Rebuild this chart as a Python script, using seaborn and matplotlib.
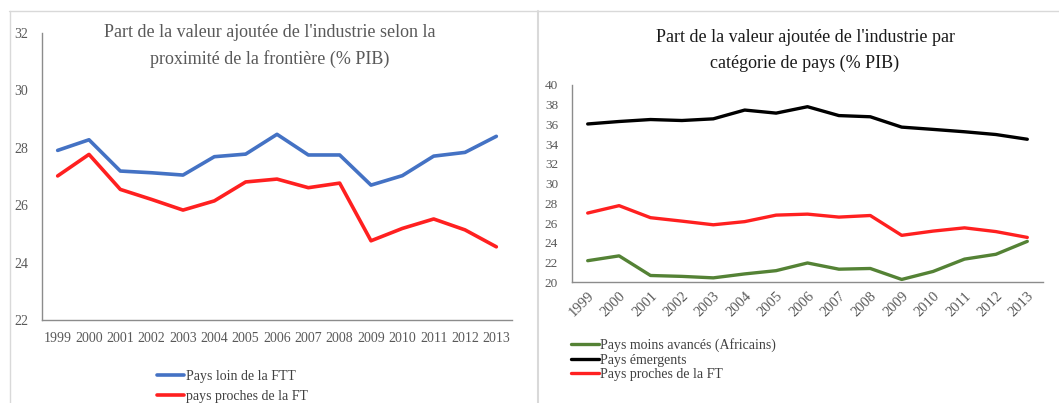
import matplotlib
import pandas as pd

matplotlib.use('Agg')
import matplotlib.pyplot as plt
from matplotlib.lines import Line2D
import seaborn as sns

years = list(range(1999, 2014))

# left chart
loin_ftt = [27.91, 28.28, 27.19, 27.13, 27.05, 27.69, 27.78, 28.47, 27.75, 27.75,
            26.70, 27.03, 27.71, 27.84, 28.40]
proches_ft = [27.02, 27.77, 26.55, 26.20, 25.83, 26.15, 26.81, 26.91, 26.61, 26.77,
              24.76, 25.19, 25.52, 25.14, 24.55]

# right chart
moins_avances = [22.19, 22.68, 20.69, 20.60, 20.45, 20.85, 21.18, 21.96, 21.33, 21.40,
                 20.29, 21.10, 22.35, 22.84, 24.15]
emergents = [36.05, 36.30, 36.50, 36.40, 36.57, 37.46, 37.15, 37.80, 36.90, 36.78,
             35.73, 35.50, 35.26, 34.98, 34.50]

BLUE = "#4472c4"
RED = "#ff2020"
GREEN = "#548235"
BLACK = "#000000"
TXT = "#595959"
AX = "#8c8c8c"

sns.set_style("white")
plt.rcParams['font.family'] = ['Liberation Serif', 'DejaVu Serif']

fig = plt.figure(figsize=(10.59, 4.03), dpi=100)

# panel frames
fig.add_artist(Line2D([9 / 1059, 1], [1 - 11 / 403] * 2, color="#d9d9d9", lw=1))
fig.add_artist(Line2D([9.5 / 1059] * 2, [0, 1 - 11 / 403], color="#d9d9d9", lw=1))
fig.add_artist(Line2D([538 / 1059] * 2, [0, 1 - 11 / 403], color="#d9d9d9", lw=1.5))


def style_axis(ax, ymin, ymax, ystep, rotate):
    ax.set_xlim(1998.5, 2013.5)
    ax.set_ylim(ymin, ymax)
    ax.set_yticks(range(ymin, ymax + 1, ystep))
    ax.set_xticks(years)
    ax.set_xticks([y - 0.5 for y in years] + [2013.5], minor=True)
    ax.tick_params(axis="x", which="major", length=0, pad=9 if not rotate else 5,
                   labelsize=10 if not rotate else 10.5, colors=TXT)
    ax.tick_params(axis="x", which="minor", length=4, width=0.8, color=AX, direction="out")
    ax.tick_params(axis="y", which="major", length=4, width=0.8, color=AX, pad=6,
                   direction="out", labelsize=10 if not rotate else 9.5, labelcolor=TXT)
    if rotate:
        plt.setp(ax.get_xticklabels(), rotation=45, ha="right", rotation_mode="anchor")
    for s in ["top", "right"]:
        ax.spines[s].set_visible(False)
    for s in ["left", "bottom"]:
        ax.spines[s].set_color(AX)
        ax.spines[s].set_linewidth(1)
    ax.set_xlabel("")
    ax.set_ylabel("")
    ax.grid(False)


# left chart
ax1 = fig.add_axes([42 / 1059, 1 - 320 / 403, 470 / 1059, 287 / 403])
df1 = pd.DataFrame({"year": years, "Pays loin de la FTT": loin_ftt,
                    "pays proches de la FT": proches_ft})
sns.lineplot(data=df1, x="year", y="Pays loin de la FTT", ax=ax1, color=BLUE, lw=2.6,
             label="Pays loin de la FTT")
sns.lineplot(data=df1, x="year", y="pays proches de la FT", ax=ax1, color=RED, lw=2.6,
             label="pays proches de la FT")
style_axis(ax1, 22, 32, 2, False)
ax1.legend(loc="upper left", bbox_to_anchor=(102 / 470, -0.13), frameon=False,
           fontsize=10, handlelength=2.0, handletextpad=0.1, labelspacing=0.5,
           labelcolor="#404040")
fig.text(270 / 1059, 1 - 46 / 403, "Part de la valeur ajoutée de l'industrie selon la\n"
         "proximité de la frontière (% PIB)", ha="center", va="center", fontsize=13,
         color=TXT, linespacing=1.6)

# right chart
ax2 = fig.add_axes([572 / 1059, 1 - 282.3 / 403, 471 / 1059, 197.3 / 403])
df2 = pd.DataFrame({"year": years, "Pays moins avancés (Africains)": moins_avances,
                    "Pays émergents": emergents, "Pays proches de la FT": proches_ft})
sns.lineplot(data=df2, x="year", y="Pays moins avancés (Africains)", ax=ax2, color=GREEN,
             lw=2.4, label="Pays moins avancés (Africains)")
sns.lineplot(data=df2, x="year", y="Pays émergents", ax=ax2, color=BLACK, lw=2.4,
             label="Pays émergents")
sns.lineplot(data=df2, x="year", y="Pays proches de la FT", ax=ax2, color=RED, lw=2.4,
             label="Pays proches de la FT")
style_axis(ax2, 20, 40, 2, True)
ax2.legend(loc="upper left", bbox_to_anchor=(-0.028, -0.22), frameon=False,
           fontsize=10, handlelength=2.0, handletextpad=0.1, labelspacing=0.1,
           labelcolor="#404040")
fig.text(805 / 1059, 1 - 50.5 / 403, "Part de la valeur ajoutée de l'industrie par\n"
         "catégorie de pays (% PIB)", ha="center", va="center", fontsize=13,
         color="#1a1a1a", linespacing=1.6)

fig.savefig("out.png", dpi=100)
